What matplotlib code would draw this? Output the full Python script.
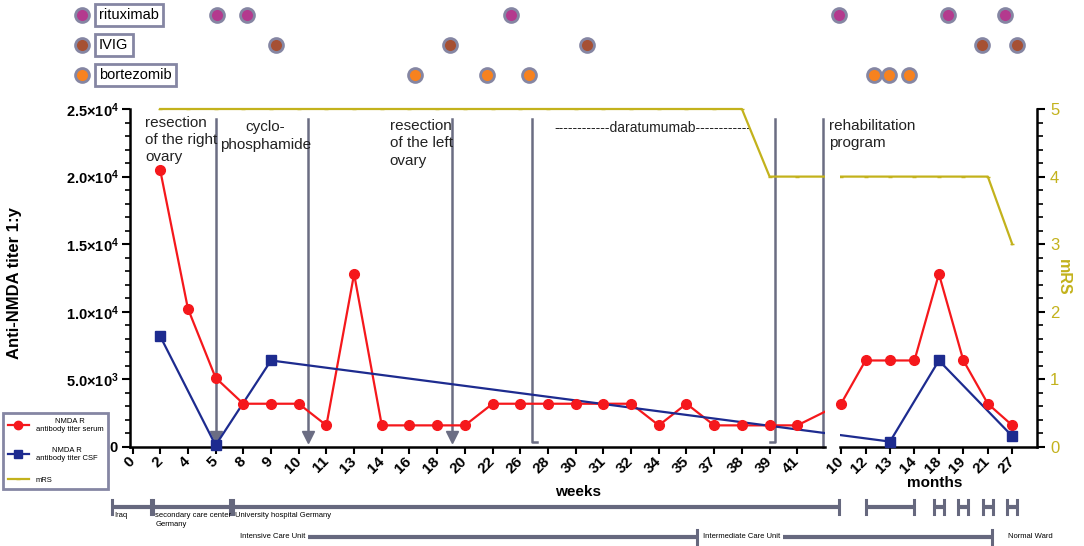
import numpy as np
import matplotlib
matplotlib.use("Agg")
import matplotlib.pyplot as plt
from matplotlib.lines import Line2D
from matplotlib.ticker import FixedLocator, FuncFormatter

plt.rcParams['font.family'] = ['Liberation Sans', 'DejaVu Sans']
plt.rcParams['mathtext.fontset'] = 'custom'
plt.rcParams['mathtext.rm'] = 'Liberation Sans'
plt.rcParams['mathtext.bf'] = 'Liberation Sans:bold'

# ---------------- data ----------------
weeks = [0, 2, 4, 5, 8, 9, 10, 11, 13, 14, 16, 18, 20, 22, 26, 28, 30, 31, 32, 34, 35, 37, 38, 39, 41]
months = [10, 12, 13, 14, 18, 19, 21, 27]

# NMDA R antibody titer serum (nan = not measured)
serum_w = [np.nan, 20480, 10240, 5120, 3200, 3200, 3200, 1600, 12800, 1600, 1600, 1600, 1600,
           3200, 3200, 3200, 3200, 3200, 3200, 1600, 3200, 1600, 1600, 1600, 1600]
serum_m = [3200, 6400, 6400, 6400, 12800, 6400, 3200, 1600]

# NMDA R antibody titer CSF
csf_weeks = [2, 5, 9]
csf_w = [8192, 128, 6400]
csf_months = [13, 18, 27]
csf_m = [400, 6400, 800]

# modified Rankin scale
mrs_w = [np.nan, 5, 5, 5, 5, 5, 5, 5, 5, 5, 5, 5, 5, 5, 5, 5, 5, 5, 5, 5, 5, 5, 5, 4, 4]
mrs_m = [4, 4, 4, 4, 4, 4, 4, 3]

# treatments, in timeline slots (fractional = between two ticks)
rituximab_w = [3.05, 4.13, 13.66]
rituximab_m = [-0.08, 4.39, 6.72]
ivig_w = [5.18, 11.46, 16.41]
ivig_m = [5.77, 7.2]
bortezomib_w = [10.2, 12.8, 14.31]
bortezomib_m = [1.35, 1.96, 2.78]

# events (week slots)
arrow_events = [3.0, 6.35, 11.54]
bracket_events = [(14.42, 1), (23.21, -1)]
line_events = [24.93]

# stays (slots)
stays_row1 = [("Iraq", -0.74, 0.67), ("secondary care center\nGermany", 0.74, 3.52),
              ("University hospital Germany", 3.63, 25.5)]
stays_months = [(12, 14), (18, 18), (19, 19), (21, 21), (27, 27)]

# ---------------- geometry ----------------
W, H = 1084, 546
PX0, PXS = 132.5, 27.7          # pixel of slot 0, pixels per slot
M0, MS = 25.58, 0.883           # months part offset / step in slots
Y0_PX, YTOP_PX, Y25_PX = 447, 100, 109
ymax = 25000 * (Y0_PX - YTOP_PX) / (Y0_PX - Y25_PX)
mrs_max = 5 * (Y0_PX - YTOP_PX) / (Y0_PX - Y25_PX)

RED = '#f5181c'
BLUE = '#1d2b8f'
OLIVE = '#c3b21c'
GRAY = '#6b6d83'
EDGE = '#8586a3'
TL = '#66687e'


def u_w(s):
    return np.asarray(s, dtype=float)


def u_m(s):
    return M0 + MS * np.asarray(s, dtype=float)


def px(u):
    return PX0 + PXS * u


def upx(p):
    return (p - PX0) / PXS


fig = plt.figure(figsize=(W / 100, H / 100), dpi=100)

# overlay for treatment dots and stays (x in slots, y in pixels)
ax_o = fig.add_axes([0, 0, 1, 1])
ax_o.set_xlim(upx(0), upx(W))
ax_o.set_ylim(H, 0)
ax_o.axis('off')

bottom = (H - Y0_PX) / H
height = (Y0_PX - YTOP_PX) / H
wl, wr = -0.09, 25.0
ml, mr = 25.54, 32.65
ax_w = fig.add_axes([px(wl) / W, bottom, (px(wr) - px(wl)) / W, height])
ax_m = fig.add_axes([px(ml) / W, bottom, (px(mr) - px(ml)) / W, height])
for ax in (ax_w, ax_m):
    ax.set_facecolor('none')
ax_wr = ax_w.twinx()
ax_mr = ax_m.twinx()

wi = np.arange(len(weeks))
mi = np.arange(len(months))
u_all = np.concatenate([u_w(wi), u_m(mi)])

serum_all = np.array(serum_w + serum_m, dtype=float)
ok = ~np.isnan(serum_all)
u_csf = np.concatenate([u_w([weeks.index(w) for w in csf_weeks]),
                        u_m([months.index(m) for m in csf_months])])
csf_all = np.array(csf_w + csf_m, dtype=float)
mrs_all = np.array(mrs_w + mrs_m, dtype=float)
okm = ~np.isnan(mrs_all)

for ax, axr in ((ax_w, ax_wr), (ax_m, ax_mr)):
    ax.plot(u_all[ok], serum_all[ok], color=RED, lw=1.6, zorder=3)
    ax.plot(u_csf, csf_all, color=BLUE, lw=1.6, zorder=3)
    axr.plot(u_all[okm], mrs_all[okm], color=OLIVE, lw=1.6, marker='_', ms=3, zorder=2)

ax_w.plot(u_w(wi), serum_w, 'o', color=RED, ms=7, clip_on=False, zorder=4)
ax_m.plot(u_m(mi), serum_m, 'o', color=RED, ms=7, clip_on=False, zorder=4)
ax_w.plot(u_w([weeks.index(w) for w in csf_weeks]), csf_w, 's', color=BLUE, ms=7,
          clip_on=False, zorder=5)
ax_m.plot(u_m([months.index(m) for m in csf_months]), csf_m, 's', color=BLUE, ms=7,
          clip_on=False, zorder=5)

for ax, lo, hi in ((ax_w, wl, wr), (ax_m, ml, mr)):
    ax.set_xlim(lo, hi)
    ax.set_ylim(0, ymax)
    ax.spines['top'].set_visible(False)
    ax.spines['right'].set_visible(False)
    ax.spines['bottom'].set_linewidth(1.8)
    ax.spines['left'].set_linewidth(1.8)
    ax.tick_params(axis='x', direction='out', length=5, width=1.5)
for axr in (ax_wr, ax_mr):
    axr.set_ylim(0, mrs_max)

ax_wr.axis('off')

# x ticks
ax_w.set_xticks(u_w(wi))
ax_w.set_xticklabels([str(w) for w in weeks], rotation=45, ha='right', va='center',
                     rotation_mode='anchor', fontweight='bold', fontsize=11)
ax_m.set_xticks(u_m(mi))
ax_m.set_xticklabels([str(m) for m in months], rotation=45, ha='right', va='center',
                     rotation_mode='anchor', fontweight='bold', fontsize=11)

# left y axis
def titer_fmt(v, pos):
    if v == 0:
        return r'$\mathbf{0}$'
    e = int(np.floor(np.log10(v)))
    return r'$\mathbf{%.1f{\times}10^{%d}}$' % (v / 10 ** e, e)


ax_w.spines['left'].set_bounds(0, 25000)
ax_w.yaxis.set_major_locator(FixedLocator(np.arange(0, 25001, 5000)))
ax_w.yaxis.set_minor_locator(FixedLocator(np.arange(0, 25001, 1000)))
ax_w.yaxis.set_major_formatter(FuncFormatter(titer_fmt))
ax_w.tick_params(axis='y', which='major', length=6, width=1.5, labelsize=10.5, pad=2)
ax_w.tick_params(axis='y', which='minor', length=3.5, width=1.2)

ax_m.spines['left'].set_visible(False)
ax_m.tick_params(axis='y', which='both', left=False, labelleft=False)

# right mRS axis
for s in ('left', 'top', 'bottom'):
    ax_mr.spines[s].set_visible(False)
ax_mr.spines['right'].set_linewidth(1.8)
ax_mr.spines['right'].set_bounds(0, 5)
ax_mr.yaxis.set_major_locator(FixedLocator(np.arange(0, 6)))
ax_mr.yaxis.set_minor_locator(FixedLocator(np.arange(0, 5.01, 0.2)))
ax_mr.tick_params(axis='y', which='major', length=6, width=1.5, labelsize=12,
                  labelcolor=OLIVE)
ax_mr.tick_params(axis='y', which='minor', length=4, width=1.2)

# axis titles
fig.text(15 / W, 1 - 283 / H, 'Anti-NMDA titer 1:y', rotation=90, ha='center', va='center',
         fontsize=12, fontweight='bold')
fig.text(1063 / W, 1 - 277 / H, 'mRS', rotation=270, ha='center', va='center',
         fontsize=11.5, fontweight='bold', color=OLIVE)
fig.text(578 / W, 1 - 492 / H, 'weeks', ha='center', va='center', fontsize=11,
         fontweight='bold')
fig.text(935 / W, 1 - 483 / H, 'months', ha='center', va='center', fontsize=11,
         fontweight='bold')

# events
EV_TOP, EV_ARROW, EV_BR = 24260, 740, 370
for s in arrow_events:
    ax_w.plot([s, s], [EV_TOP, EV_ARROW], color=GRAY, lw=1.8, zorder=2)
    ax_w.plot(s, EV_ARROW, 'v', color=GRAY, ms=8, clip_on=False, zorder=2)
for s, d in bracket_events:
    ax_w.plot([s, s, s + 0.2 * d], [EV_TOP, EV_BR, EV_BR], color=GRAY, lw=1.8, zorder=2)
for s in line_events:
    ax_w.plot([s, s], [EV_TOP, 0], color=GRAY, lw=1.8, zorder=2, clip_on=False)

TXT = '#222222'
ax_w.text(0.45, 24500, 'resection\nof the right\novary', ha='left', va='top', fontsize=11,
          linespacing=1.3, color=TXT)
ax_w.text(4.79, 24150, 'cyclo-\nphosphamide', ha='center', va='top', fontsize=11,
          linespacing=1.3, multialignment='center', color=TXT)
ax_w.text(9.28, 24250, 'resection\nof the left\novary', ha='left', va='top', fontsize=11,
          linespacing=1.3, color=TXT)
ax_w.text(18.8, 23600, '------------daratumumab------------', ha='center', va='center',
          fontsize=10, color=TXT)
ax_w.text(25.13, 24250, 'rehabilitation\nprogram', ha='left', va='top', fontsize=11,
          linespacing=1.3, color=TXT)

# treatment dots
rows = [('rituximab', '#b43a8e', rituximab_w, rituximab_m, 15),
        ('IVIG', '#a65033', ivig_w, ivig_m, 45),
        ('bortezomib', '#f7821f', bortezomib_w, bortezomib_m, 75)]
for name, col, tw, tm, y in rows:
    us = np.concatenate([[upx(82)], u_w(tw), u_m(tm)])
    ax_o.plot(us, [y] * len(us), 'o', ms=10, mfc=col, mec=EDGE, mew=2, ls='none')
    ax_o.text(upx(99), y, name, ha='left', va='center', fontsize=10.5,
              bbox=dict(boxstyle='square,pad=0.3', fc='white', ec=EDGE, lw=2))


# stays
def span(u0, u1, y, left_cap=True, right_cap=True):
    ax_o.plot([u0, u1], [y, y], color=TL, lw=3, solid_capstyle='butt')
    for u, c in ((u0, left_cap), (u1, right_cap)):
        if c:
            ax_o.plot([u, u], [y - 7, y + 7], color=TL, lw=2.2)


R1, R2 = 507, 537
for label, a, b in stays_row1:
    span(a, b, R1)
    ax_o.text(a + 0.08, R1 + 5, label, ha='left', va='top', fontsize=5.5, linespacing=1.3)
for a, b in stays_months:
    ja, jb = months.index(a), months.index(b)
    if ja == jb:
        span(u_m(ja - 0.2), u_m(jb + 0.2), R1)
    else:
        span(u_m(ja), u_m(jb), R1)

ax_o.text(upx(240), R2, 'Intensive Care Unit', ha='left', va='center', fontsize=5.5)
span(upx(308), upx(697), R2, left_cap=False)
ax_o.text(upx(703), R2, 'Intermediate Care Unit', ha='left', va='center', fontsize=5.5)
span(upx(783), upx(992), R2, left_cap=False)
ax_o.text(upx(1008), R2, 'Normal Ward', ha='left', va='center', fontsize=5.5)

# legend
h1 = Line2D([], [], color=RED, marker='o', ms=6, lw=1.6)
h2 = Line2D([], [], color=BLUE, marker='s', ms=6, lw=1.6)
h3 = Line2D([], [], color=OLIVE, marker='_', ms=3, lw=1.6)
leg = fig.legend([h1, h2, h3], ['NMDA R\nantibody titer serum', 'NMDA R\nantibody titer CSF', 'mRS'],
                 loc='upper left', bbox_to_anchor=(3 / W, 1 - 413 / H), borderaxespad=0,
                 fontsize=5.5, handlelength=2.8, handletextpad=0.9, labelspacing=1.9,
                 borderpad=0.6, fancybox=False, edgecolor=EDGE, framealpha=1)
leg.get_frame().set_linewidth(2)
for t in leg.get_texts():
    t.set_multialignment('center')

fig.savefig('out.png', dpi=100)
